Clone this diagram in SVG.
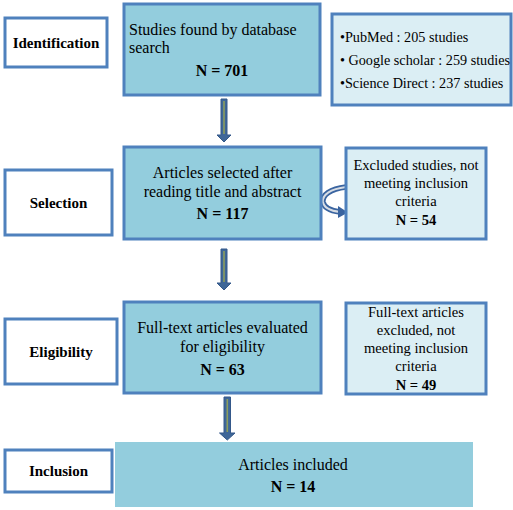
<svg xmlns="http://www.w3.org/2000/svg" width="513" height="510" viewBox="0 0 513 510">
<defs>
<style>
text{fill:#000}
.lab{fill:#fff;stroke:#4F81BD;stroke-width:3}
.main{fill:#93CDDD;stroke:#4F81BD;stroke-width:3}
.side{fill:#DBEEF4;stroke:#4F81BD;stroke-width:3}
.lt{font-size:15px;font-weight:bold;text-anchor:middle}
.t{font-size:16px}
.x{font-size:14.6px}
.c{text-anchor:middle}
.b{font-weight:bold}
.s{font-size:14.2px}
.arr{fill:#3F6798;stroke:#34588A;stroke-width:1}
.core{stroke:#8C9E5E;stroke-width:1.6}
</style>
</defs>
<rect width="513" height="510" fill="#fff"/>
<g font-family="'Liberation Serif', 'Times New Roman', 'DejaVu Serif', serif">
<g id="connectors">
<path class="arr" d="M221,99 H227 V135 H231 L224,142 L217,135 H221 Z"/>
<line class="core" x1="224" y1="101" x2="224" y2="134"/>
<path class="arr" d="M221,249 H227 V283 H231 L224,290 L217,283 H221 Z"/>
<line class="core" x1="224" y1="251" x2="224" y2="282"/>
<path class="arr" d="M224,397 H230.5 V433 H235 L227.3,440 L219.5,433 H224 Z"/>
<line class="core" x1="227.3" y1="399" x2="227.3" y2="432"/>
<g id="curved-arrow">
<path d="M346,187 C330,189 322,195 323,202 C324,208 332,211 340,212" fill="none" stroke="#3A64A0" stroke-width="5.5"/>
<path d="M346,187 C330,189 322,195 323,202 C324,208 332,211 340,212" fill="none" stroke="#D6DCE4" stroke-width="2"/>
<path d="M338,206 L348,212.5 L338,218 Z" fill="#3A64A0"/>
</g>
</g>
<g id="identification">
<rect class="lab" x="5" y="18" width="102" height="49"/>
<text class="lt" x="56" y="48">Identification</text>
</g>
<g id="selection">
<rect class="lab" x="5" y="170" width="107" height="65"/>
<text class="lt" x="58.5" y="208">Selection</text>
</g>
<g id="eligibility">
<rect class="lab" x="5" y="319" width="112" height="65"/>
<text class="lt" x="61" y="357">Eligibility</text>
</g>
<g id="inclusion">
<rect class="lab" x="5" y="450" width="107" height="42"/>
<text class="lt" x="58.5" y="476">Inclusion</text>
</g>
<g id="studies-found">
<rect class="main" x="124" y="4" width="196" height="91"/>
<text class="t" x="129" y="35">Studies found by database</text>
<text class="t" x="129" y="53">search</text>
<text class="t c b" x="222" y="76">N = 701</text>
</g>
<g id="databases">
<rect class="side" x="332" y="14" width="179" height="91"/>
<text class="s" x="340" y="42">•PubMed : 205 studies</text>
<text class="s" x="340" y="65">• Google scholar : 259 studies</text>
<text class="s" x="340" y="88">•Science Direct : 237 studies</text>
</g>
<g id="articles-selected">
<rect class="main" x="124" y="147" width="197" height="92"/>
<text class="t c" x="222.5" y="178">Articles selected after</text>
<text class="t c" x="222.5" y="197">reading title and abstract</text>
<text class="t c b" x="222.5" y="219">N = 117</text>
</g>
<g id="excluded-1">
<rect class="side" x="346" y="148" width="140" height="91"/>
<text class="x c" x="416" y="170">Excluded studies, not</text>
<text class="x c" x="416" y="188">meeting inclusion</text>
<text class="x c" x="416" y="206">criteria</text>
<text class="x c b" x="416" y="225">N = 54</text>
</g>
<g id="full-text">
<rect class="main" x="124" y="302" width="197" height="91"/>
<text class="t c" x="222.5" y="333">Full-text articles evaluated</text>
<text class="t c" x="222.5" y="352">for eligibility</text>
<text class="t c b" x="222.5" y="375">N = 63</text>
</g>
<g id="excluded-2">
<rect class="side" x="346" y="303" width="140" height="91"/>
<text class="x c" x="416" y="317">Full-text articles</text>
<text class="x c" x="416" y="335">excluded, not</text>
<text class="x c" x="416" y="353">meeting inclusion</text>
<text class="x c" x="416" y="371">criteria</text>
<text class="x c b" x="416" y="390">N = 49</text>
</g>
<g id="articles-included">
<rect x="115" y="442" width="358" height="65" fill="#93CDDD"/>
<text class="t c" x="293" y="470">Articles included</text>
<text class="t c b" x="293" y="492">N = 14</text>
</g>
</g>
</svg>
